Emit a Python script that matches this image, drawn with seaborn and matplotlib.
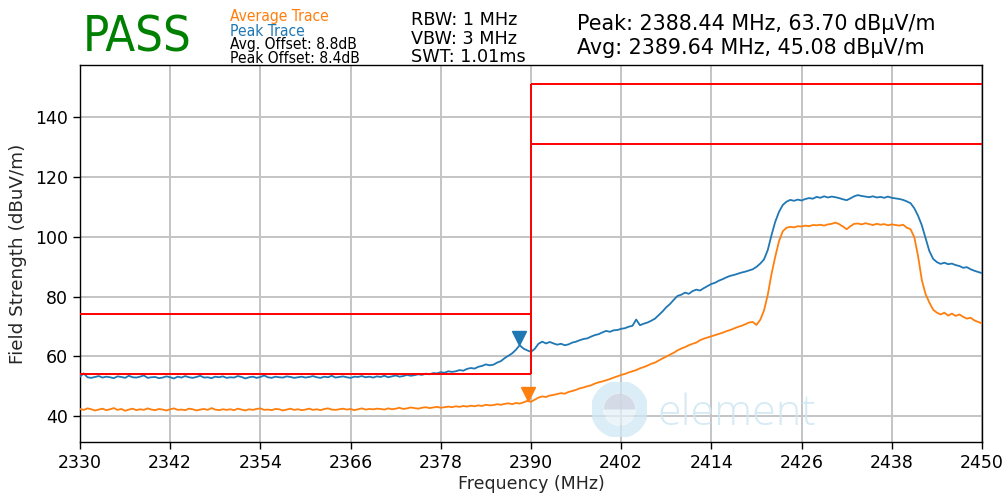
import numpy as np
import pandas as pd
import matplotlib
matplotlib.use("Agg")
import matplotlib.pyplot as plt
import matplotlib.transforms as mtransforms
from matplotlib.patches import Circle, Wedge
import seaborn as sns

# ---- measurement data -------------------------------------------------------
START_MHZ = 2330.0
STOP_MHZ = 2450.0

peak_trace = [
    53.2, 54.3, 53.0, 52.8, 53.1, 53.4, 52.9, 53.2, 53.0, 52.7, 53.3, 53.1, 52.8, 53.5, 53.0, 52.9, 53.2, 53.6, 52.8, 53.0,
    53.1, 52.7, 52.9, 53.3, 53.0, 52.6, 53.2, 52.9, 53.4, 53.0, 52.8, 53.1, 53.5, 52.9, 53.0, 52.7, 53.2, 53.0, 53.3, 52.8,
    53.0, 52.9, 53.4, 53.1, 52.6, 53.0, 53.2, 52.8, 53.1, 53.6, 53.0, 52.8, 53.2, 53.0, 52.9, 53.3, 53.1, 52.8, 53.0, 53.2,
    52.9, 53.1, 53.4, 53.0, 52.8, 53.2, 53.0, 53.5, 52.9, 53.1, 53.3, 53.0, 52.8, 53.2, 53.1, 53.4, 53.0, 53.2, 52.9, 53.3,
    53.1, 53.5, 53.0, 53.3, 53.6, 53.2, 53.4, 53.8, 53.5, 53.7, 54.0, 53.8, 54.2, 54.0, 54.4, 54.3, 54.7, 54.5, 55.0, 54.8,
    55.0, 55.4, 55.2, 55.8, 56.1, 55.9, 56.5, 56.8, 57.3, 57.0, 57.2, 57.9, 58.4, 59.4, 60.2, 61.0, 62.2, 63.7, 62.6, 62.0,
    61.5, 62.5, 64.2, 64.9, 64.3, 64.8, 64.3, 63.9, 64.2, 63.7, 64.0, 64.6, 64.9, 65.4, 65.8, 66.0, 66.6, 67.1, 67.4, 68.0,
    68.5, 68.2, 68.7, 68.8, 69.2, 69.4, 69.9, 70.2, 72.3, 70.4, 70.9, 71.3, 71.9, 72.6, 73.8, 75.0, 76.4, 77.5, 78.9, 80.2,
    80.6, 81.3, 80.9, 81.8, 82.3, 82.0, 82.8, 83.5, 84.2, 84.6, 85.3, 85.8, 86.4, 86.9, 87.2, 87.6, 88.0, 88.3, 88.7, 89.1,
    89.9, 91.0, 92.4, 95.5, 100.5, 105.0, 108.3, 110.6, 111.7, 112.3, 112.0, 112.4, 112.1, 112.6, 112.9, 112.7, 113.3, 113.0, 113.5, 113.1,
    113.4, 113.2, 112.9, 112.5, 112.2, 112.8, 113.5, 113.9, 113.6, 113.4, 113.2, 113.5, 113.1, 113.3, 113.0, 113.4, 113.0, 112.8, 112.6, 112.3,
    111.8, 111.2, 109.5, 107.0, 103.8, 99.5, 95.2, 92.6, 91.5, 90.9, 91.3, 90.8, 91.0, 90.5, 90.2, 89.6, 89.8, 89.1, 88.6, 88.2,
    87.8,
]

avg_trace = [
    42.4, 42.1, 42.6, 42.3, 41.9, 42.2, 42.5, 42.0, 42.3, 42.7, 42.1, 42.4, 41.8, 42.2, 42.5, 42.0, 42.3, 42.1, 42.6, 42.2,
    42.0, 42.4, 42.2, 41.9, 42.3, 42.6, 42.1, 42.2, 42.0, 42.5, 42.3, 41.9, 42.2, 42.4, 42.1, 42.7, 42.2, 42.0, 42.3, 42.1,
    42.3, 42.0, 42.5, 42.2, 41.9, 42.3, 42.1, 42.4, 42.6, 42.1, 42.2, 42.0, 42.4, 42.3, 41.9, 42.2, 42.5, 42.1, 42.3, 42.0,
    42.2, 42.5, 42.1, 42.3, 42.0, 42.4, 42.6, 42.2, 42.1, 42.3, 42.5, 42.2, 42.4, 42.0, 42.3, 42.6, 42.2, 42.4, 42.3, 42.5,
    42.4, 42.2, 42.6, 42.3, 42.5, 42.8, 42.4, 42.6, 42.9, 42.7, 42.5, 42.8, 43.0, 42.7, 42.9, 43.1, 42.8, 43.0, 43.2, 43.0,
    43.3, 43.1, 43.4, 43.2, 43.5, 43.3, 43.6, 43.4, 43.8, 43.6, 43.7, 44.0, 43.8, 44.1, 44.3, 44.0, 44.4, 44.2, 44.6, 45.1,
    44.8, 45.5, 46.2, 46.6, 46.4, 46.9, 47.1, 47.4, 47.7, 47.5, 48.1, 48.4, 48.8, 49.3, 49.6, 50.0, 50.3, 50.9, 51.3, 51.6,
    52.0, 52.4, 52.9, 53.3, 53.8, 54.1, 54.6, 55.0, 55.4, 56.0, 56.4, 56.9, 57.5, 57.9, 58.6, 59.3, 59.9, 60.6, 61.2, 62.0,
    62.6, 63.1, 63.7, 64.2, 64.6, 65.4, 65.9, 66.3, 66.7, 67.1, 67.5, 67.9, 68.4, 68.8, 69.3, 69.8, 70.2, 70.7, 71.3, 71.5,
    70.5, 72.2, 75.3, 80.5, 87.5, 93.3, 98.5, 101.8, 103.0, 103.3, 103.1, 103.5, 103.4, 103.7, 103.5, 103.9, 103.8, 104.0, 103.7, 104.1,
    104.3, 104.7, 104.2, 103.4, 102.5, 103.5, 104.3, 104.4, 104.1, 104.5, 104.2, 103.9, 104.3, 104.0, 104.2, 103.8, 104.1, 103.9, 103.7, 104.0,
    103.0, 102.5, 99.8, 93.5, 85.5, 80.8, 78.0, 75.6, 74.6, 74.0, 74.6, 73.6, 74.3, 73.5, 74.0, 73.2, 72.6, 72.9, 72.0, 71.5,
    71.0,
]

# limit lines: band edges and limit levels (restricted band / fundamental band)
band_edges = [2330, 2390, 2450]
peak_limits = [74, 151]
avg_limits = [54, 131]

# marker readouts
peak_freq, peak_level = 2388.44, 63.70
avg_freq, avg_level = 2389.64, 45.08

x_ticks = [2330, 2342, 2354, 2366, 2378, 2390, 2402, 2414, 2426, 2438, 2450]
y_ticks = [40, 60, 80, 100, 120, 140]

BLUE = "#1f77b4"
ORANGE = "#ff7f0e"

# ---- styling ---------------------------------------------------------------
sns.set_style("ticks")
plt.rcParams["font.family"] = ["DejaVu Sans"]
plt.rcParams["axes.edgecolor"] = "black"
plt.rcParams["axes.linewidth"] = 1.0
plt.rcParams["xtick.color"] = "black"
plt.rcParams["ytick.color"] = "black"

freqs = np.linspace(START_MHZ, STOP_MHZ, len(peak_trace))
df = pd.DataFrame({"freq": freqs, "peak": peak_trace, "avg": avg_trace})

fig = plt.figure(figsize=(10.06, 4.98), dpi=100)
ax = fig.add_axes([0.0795, 0.1115, 0.8966, 0.758])

ax.grid(True, color="#c4c4c4", linewidth=1.4, zorder=0)
ax.set_axisbelow(True)

sns.lineplot(data=df, x="freq", y="peak", ax=ax, color=BLUE, linewidth=1.3, zorder=3)
sns.lineplot(data=df, x="freq", y="avg", ax=ax, color=ORANGE, linewidth=1.3, zorder=3)

# limit lines
ax.hlines(peak_limits[0], band_edges[0], band_edges[1], color="red", lw=1.4, zorder=4)
ax.hlines(avg_limits[0], band_edges[0], band_edges[1], color="red", lw=1.4, zorder=4)
ax.hlines(peak_limits[1], band_edges[1], band_edges[2], color="red", lw=1.4, zorder=4)
ax.hlines(avg_limits[1], band_edges[1], band_edges[2], color="red", lw=1.4, zorder=4)
ax.vlines(band_edges[1], avg_limits[0], peak_limits[1], color="red", lw=1.4, zorder=4)

# marker triangles, tip resting on the measured point
ms = 10
tip = mtransforms.offset_copy(ax.transData, fig=fig, x=0, y=ms / 2, units="points")
ax.plot([peak_freq], [peak_level], marker="v", ms=ms, color=BLUE, transform=tip, zorder=5, ls="none")
ax.plot([avg_freq], [avg_level], marker="v", ms=ms, color=ORANGE, transform=tip, zorder=5, ls="none")

ax.set_xlim(START_MHZ, STOP_MHZ)
ax.set_ylim(31.2, 157.4)
ax.set_xticks(x_ticks)
ax.set_yticks(y_ticks)
ax.tick_params(axis="both", labelsize=12.5, length=5, width=1, direction="out")
ax.set_xlabel("Frequency (MHz)", fontsize=12.5, labelpad=2)
ax.set_ylabel("Field Strength (dBuV/m)", fontsize=13.2, labelpad=6)
for s in ax.spines.values():
    s.set_visible(True)
    s.set_color("black")

# ---- header block ----------------------------------------------------------
def top(px):
    return 1 - px / 498.0

small = dict(fontsize=11.2, fontstretch="condensed", va="baseline")
fig.text(83 / 1006, top(52), "PASS", color="green", fontsize=35, fontstretch="condensed", va="baseline")
fig.text(230 / 1006, top(21), "Average Trace", color=ORANGE, **small)
fig.text(230 / 1006, top(35.5), "Peak Trace", color=BLUE, **small)
fig.text(230 / 1006, top(49.5), "Avg. Offset: 8.8dB", color="black", **small)
fig.text(230 / 1006, top(63), "Peak Offset: 8.4dB", color="black", **small)

fig.text(411 / 1006, top(25), "RBW: 1 MHz", color="black", fontsize=12.7, va="baseline")
fig.text(411 / 1006, top(43.5), "VBW: 3 MHz", color="black", fontsize=12.7, va="baseline")
fig.text(411 / 1006, top(61.5), "SWT: 1.01ms", color="black", fontsize=12.7, va="baseline")

fig.text(577 / 1006, top(30), f"Peak: {peak_freq:.2f} MHz, {peak_level:.2f} dBµV/m",
         color="black", fontsize=14.9, va="baseline")
fig.text(577 / 1006, top(54), f"Avg: {avg_freq:.2f} MHz, {avg_level:.2f} dBµV/m",
         color="black", fontsize=14.9, va="baseline")

# ---- faint company watermark -----------------------------------------------
logo = fig.add_axes([592 / 1006, top(437), 55 / 1006, 55 / 498])
logo.set_xlim(-1, 1)
logo.set_ylim(-1, 1)
logo.set_aspect("equal")
logo.axis("off")
logo.patch.set_alpha(0)
logo.add_patch(Circle((0, 0), 0.82, fill=False, ec="#cfe7f3", lw=9, alpha=0.75))
logo.add_patch(Circle((0, 0), 0.58, fc="#e4f1f8", ec="none", alpha=0.75))
logo.add_patch(Wedge((0, 0), 0.58, 0, 180, fc="#cdd3e2", ec="none", alpha=0.75))
fig.text(658 / 1006, top(425), "element", color="#cfe7f3", alpha=0.85, fontsize=31,
         family=["Open Sans", "DejaVu Sans"], fontweight="light",
         va="baseline")

fig.savefig("out.png", dpi=100)
